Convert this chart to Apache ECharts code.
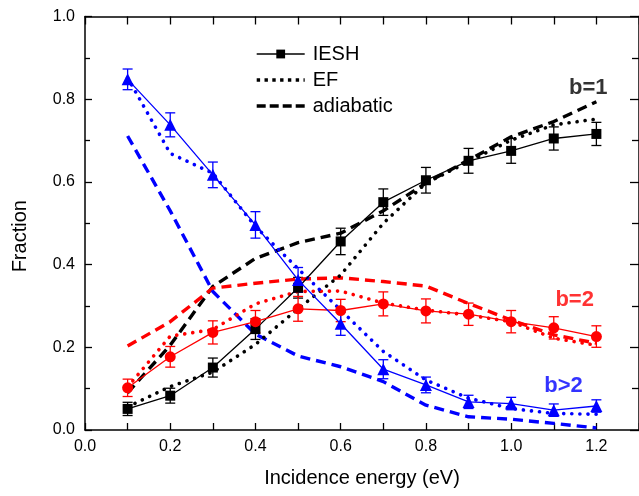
<!DOCTYPE html>
<html><head><meta charset="utf-8">
<script src="https://cdn.jsdelivr.net/npm/echarts@6/dist/echarts.min.js"></script>
<style>html,body{margin:0;padding:0;background:#fff}#c{width:639px;height:496px}</style>
</head><body><div id="c"></div>
<script>
// ---- data ----
const energies = [0.1, 0.2, 0.3, 0.4, 0.5, 0.6, 0.7, 0.8, 0.9, 1.0, 1.1, 1.2];

const ieshB1    = [0.051, 0.083, 0.151, 0.244, 0.344, 0.456, 0.551, 0.604, 0.651, 0.675, 0.705, 0.716];
const ieshB1Err = [0.016, 0.018, 0.023, 0.025, 0.025, 0.032, 0.032, 0.031, 0.030, 0.030, 0.028, 0.028];
const efB1      = [0.056, 0.105, 0.140, 0.207, 0.293, 0.375, 0.500, 0.597, 0.649, 0.701, 0.738, 0.752];
const adiaB1    = [0.090, 0.205, 0.347, 0.415, 0.453, 0.476, 0.530, 0.597, 0.653, 0.709, 0.746, 0.794];

const ieshB2    = [0.102, 0.177, 0.236, 0.262, 0.293, 0.289, 0.305, 0.288, 0.280, 0.262, 0.247, 0.226];
const ieshB2Err = [0.021, 0.025, 0.028, 0.027, 0.030, 0.027, 0.029, 0.029, 0.027, 0.027, 0.027, 0.026];
const efB2      = [0.104, 0.227, 0.243, 0.305, 0.335, 0.336, 0.307, 0.290, 0.278, 0.262, 0.222, 0.205];
const adiaB2    = [0.203, 0.262, 0.343, 0.355, 0.365, 0.368, 0.359, 0.348, 0.306, 0.266, 0.230, 0.210];

const ieshB3    = [0.848, 0.738, 0.617, 0.496, 0.363, 0.257, 0.147, 0.109, 0.068, 0.064, 0.048, 0.058];
const ieshB3Err = [0.025, 0.029, 0.031, 0.032, 0.030, 0.028, 0.023, 0.019, 0.016, 0.015, 0.015, 0.015];
const efB3      = [0.852, 0.669, 0.621, 0.492, 0.390, 0.290, 0.190, 0.121, 0.077, 0.052, 0.040, 0.038];
const adiaB3    = [0.711, 0.530, 0.335, 0.232, 0.179, 0.153, 0.117, 0.060, 0.032, 0.026, 0.016, 0.005];

const legendNames = ['IESH', 'EF', 'adiabatic'];
const annotLabels = ['b=1', 'b=2', 'b>2'];
const annotX = [1.181, 1.149, 1.123];
const annotY = [0.827, 0.314, 0.107];

const xAxisTitle = 'Incidence energy (eV)';
const yAxisTitle = 'Fraction';

// ---- styles ----
const FONT = 'Liberation Sans, Arial, sans-serif';
const BLACK = '#000000', RED = '#ff0000', BLUE = '#0000ff';
const colors = [BLACK, RED, BLUE];
const symbols = ['rect', 'circle', 'triangle'];
const symbolSizes = [10, 11, 12];
const dotted = { type: [0.1, 8], cap: 'round', width: 3.6 };
const dottedLegend = { type: [3.4, 4.4], width: 3.4 };
const dashed = { type: [10, 6], width: 3.4 };
const dashedLegend = { type: [9, 4], width: 3.4 };
const NOFILL = 'rgba(0,0,0,0)';

function pairs(vals) { return energies.map((e, i) => [e, vals[i]]); }

function errSeries(vals, errs, color) {
  return {
    type: 'custom', silent: true, z: 2,
    data: energies.map((e, i) => [e, vals[i] - errs[i], vals[i] + errs[i]]),
    encode: { x: 0, y: [1, 2] },
    renderItem: function (params, api) {
      const lo = api.coord([api.value(0), api.value(1)]);
      const hi = api.coord([api.value(0), api.value(2)]);
      const w = 5, st = { stroke: color, lineWidth: 1.3 };
      return { type: 'group', children: [
        { type: 'line', shape: { x1: lo[0], y1: lo[1], x2: hi[0], y2: hi[1] }, style: st },
        { type: 'line', shape: { x1: lo[0] - w, y1: lo[1], x2: lo[0] + w, y2: lo[1] }, style: st },
        { type: 'line', shape: { x1: hi[0] - w, y1: hi[1], x2: hi[0] + w, y2: hi[1] }, style: st }
      ]};
    }
  };
}

function ieshSeries(vals, k) {
  return { type: 'line', data: pairs(vals), symbol: symbols[k], symbolSize: symbolSizes[k],
    itemStyle: { color: colors[k] }, lineStyle: { color: colors[k], width: 1.3 }, z: 4, silent: true };
}
function efSeries(vals, k) {
  return { type: 'line', data: pairs(vals), symbol: 'none',
    lineStyle: Object.assign({ color: colors[k] }, dotted), z: 3, silent: true };
}
function adiaSeries(vals, k) {
  return { type: 'line', data: pairs(vals), symbol: 'none',
    lineStyle: Object.assign({ color: colors[k] }, dashed), z: 3, silent: true };
}

const series = [
  adiaSeries(adiaB1, 0), adiaSeries(adiaB2, 1), adiaSeries(adiaB3, 2),
  efSeries(efB1, 0), efSeries(efB2, 1), efSeries(efB3, 2),
  errSeries(ieshB1, ieshB1Err, BLACK), errSeries(ieshB2, ieshB2Err, RED), errSeries(ieshB3, ieshB3Err, BLUE),
  ieshSeries(ieshB1, 0), ieshSeries(ieshB2, 1), ieshSeries(ieshB3, 2),
  // legend entries
  { name: legendNames[0], type: 'line', data: [], symbol: 'rect', symbolSize: 10,
    itemStyle: { color: BLACK }, lineStyle: { color: BLACK, width: 1.5 } },
  { name: legendNames[1], type: 'line', data: [], symbol: 'none',
    itemStyle: { color: NOFILL, borderWidth: 0 }, lineStyle: Object.assign({ color: BLACK }, dottedLegend) },
  { name: legendNames[2], type: 'line', data: [], symbol: 'none',
    itemStyle: { color: NOFILL, borderWidth: 0 }, lineStyle: Object.assign({ color: BLACK }, dashedLegend) },
  // annotations
  { type: 'scatter', symbolSize: 0, silent: true, z: 10, itemStyle: { color: NOFILL },
    data: annotLabels.map((t, i) => ({ value: [annotX[i], annotY[i]],
      label: { show: true, position: 'inside', formatter: t, color: colors[i],
        textBorderWidth: 0, textBorderColor: NOFILL,
        fontSize: 22, fontWeight: 'bold', fontFamily: FONT } })) }
];

const axisLine = { show: true, onZero: false, lineStyle: { color: '#000', width: 1.5 } };
const tickStyle = { color: '#000', width: 1.3 };

const option = {
  animation: false,
  backgroundColor: '#fff',
  grid: { left: 85, right: -4, top: 16.5, bottom: 66, containLabel: false },
  legend: {
    data: legendNames, orient: 'vertical', left: 250, top: 39,
    itemWidth: 48, itemHeight: 11, itemGap: 6,
    lineStyle: { width: 'inherit', type: 'inherit' },
    textStyle: { fontSize: 20, fontFamily: FONT, color: '#000', padding: [0, 0, 0, 3] },
    selectedMode: false
  },
  xAxis: [
    { type: 'value', position: 'bottom', min: 0, max: 1.3, interval: 0.2,
      axisLine: axisLine,
      axisTick: { show: true, inside: true, length: 7, lineStyle: tickStyle },
      minorTick: { show: true, splitNumber: 2, length: 7, lineStyle: tickStyle },
      splitLine: { show: false }, minorSplitLine: { show: false },
      axisLabel: { fontSize: 16, fontFamily: FONT, color: '#000', margin: 9, showMaxLabel: false,
        formatter: v => v.toFixed(1) },
      name: xAxisTitle, nameLocation: 'middle', nameGap: 38,
      nameTextStyle: { fontSize: 20, fontFamily: FONT, color: '#000' } },
    { type: 'value', position: 'top', min: 0, max: 1.3, interval: 0.2,
      axisLine: axisLine,
      axisTick: { show: true, inside: true, length: 8, lineStyle: tickStyle },
      minorTick: { show: true, splitNumber: 2, length: 8, lineStyle: tickStyle },
      splitLine: { show: false }, axisLabel: { show: false } }
  ],
  yAxis: [
    { type: 'value', position: 'left', min: 0, max: 1.0, interval: 0.2,
      axisLine: axisLine,
      axisTick: { show: true, inside: true, length: 7, lineStyle: tickStyle },
      minorTick: { show: true, splitNumber: 2, length: 5, lineStyle: tickStyle },
      splitLine: { show: false }, minorSplitLine: { show: false },
      axisLabel: { fontSize: 16, fontFamily: FONT, color: '#000', margin: 10,
        formatter: v => v.toFixed(1) },
      name: yAxisTitle, nameLocation: 'middle', nameGap: 55, nameRotate: 90,
      nameTextStyle: { fontSize: 20, fontFamily: FONT, color: '#000', padding: [0, 26, 0, 0] } },
    { type: 'value', position: 'right', min: 0, max: 1.0, interval: 0.2,
      axisLine: axisLine,
      axisTick: { show: true, inside: true, length: 9, lineStyle: tickStyle },
      minorTick: { show: true, splitNumber: 2, length: 7, lineStyle: tickStyle },
      splitLine: { show: false }, axisLabel: { show: false } }
  ],
  series: series
};

const chart = echarts.init(document.getElementById('c'), null, { renderer: 'canvas' });
chart.setOption(option);
</script>
</body></html>
